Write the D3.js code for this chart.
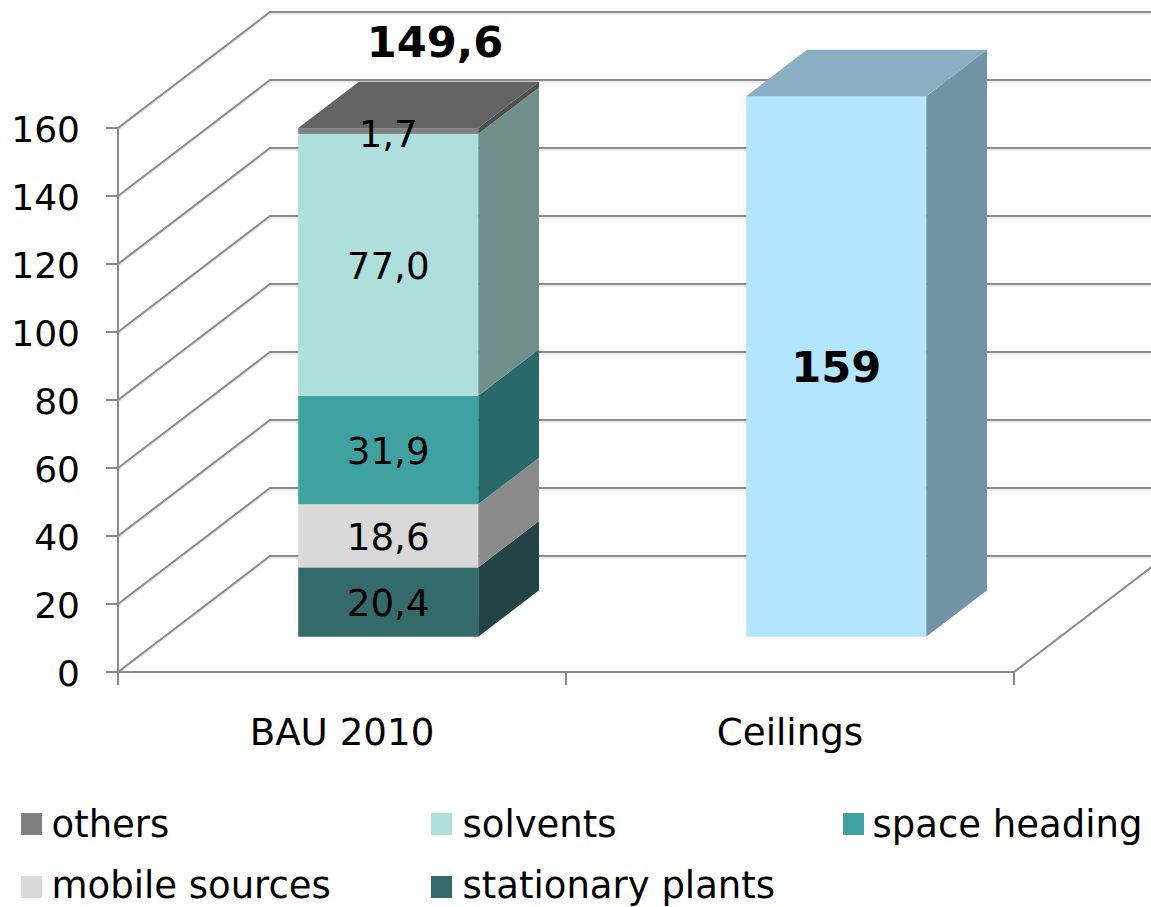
<!DOCTYPE html>
<html><head><meta charset="utf-8">
<script src="https://cdn.jsdelivr.net/npm/d3@7/dist/d3.min.js"></script>
<style>html,body{margin:0;padding:0;background:#fff;overflow:hidden}svg{display:block}text{font-family:"DejaVu Sans",sans-serif;fill:#000}</style>
</head><body><svg id="c" width="1151" height="907"></svg>
<script>
const categories = ["BAU 2010", "Ceilings"];
const stackNames = ["stationary plants", "mobile sources", "space heading", "solvents", "others"];
const stackValues = [20.4, 18.6, 31.9, 77.0, 1.7];
const stackLabels = ["20,4", "18,6", "31,9", "77,0", "1,7"];
const stackFront = ["#356a6a", "#d9d9d9", "#3fa2a0", "#aedfdd", "#808080"];
const stackSide = ["#234444", "#8a8a8a", "#29696a", "#6f8e8c", "#4f4f4f"];
const stackTotalLabel = "149,6";
const ceilingValue = 159;
const ceilingLabel = "159";
const ceilingColors = ["#b3e5ff", "#7293a5", "#8aafc2"];
const stackTopColor = "#636363";
const yTicks = [0, 20, 40, 60, 80, 100, 120, 140, 160];
const legendRows = [["others", "solvents", "space heading"], ["mobile sources", "stationary plants"]];
const gridColor = "#8a8a8a";
const FS = 37.2, FSB = 43.2, FSL = 37, FST = 36;

const svg = d3.select("#c");
const y = d3.scaleLinear().domain([0, 160]).range([672, 128]);
const x = d3.scaleBand().domain(categories).range([118, 1014]);
const wallDX = 152, wallDY = -116;
const barWidth = 180;
const frontFrac = 0.304, depthFrac = 0.4;
const floorOffsetX = wallDX * frontFrac, floorOffsetY = wallDY * frontFrac;
const depthX = wallDX * depthFrac, depthY = wallDY * depthFrac;
const barY = v => y(v) + floorOffsetY;
const barLeft = c => x(c) + x.bandwidth() / 2 - barWidth / 2 + floorOffsetX;
const line = d3.line();

const grid = svg.append("g");
yTicks.forEach(t => {
  const pts = [[x.range()[0], y(t)], [x.range()[0] + wallDX, y(t) + wallDY], [1151, y(t) + wallDY]];
  grid.append("path").attr("d", line(pts.map(p => [p[0], p[1] + 2]))).attr("fill", "none").attr("stroke", "#dcdcdc").attr("stroke-width", 1);
  grid.append("path").attr("d", line(pts)).attr("fill", "none").attr("stroke", gridColor).attr("stroke-width", 2);
  svg.append("line").attr("x1", x.range()[0] - 12).attr("x2", x.range()[0]).attr("y1", y(t)).attr("y2", y(t)).attr("stroke", gridColor).attr("stroke-width", 2);
  svg.append("text").attr("x", 80).attr("y", y(t) + 14).attr("text-anchor", "end").attr("font-size", FST).text(t);
});
svg.append("line").attr("x1", x.range()[0]).attr("x2", x.range()[0]).attr("y1", y(160)).attr("y2", y(0)).attr("stroke", gridColor).attr("stroke-width", 2);
svg.append("line").attr("x1", x.range()[0]).attr("x2", x.range()[1]).attr("y1", y(0)).attr("y2", y(0)).attr("stroke", gridColor).attr("stroke-width", 2);
svg.append("path").attr("d", line([[x.range()[1], y(0)], [x.range()[1] + wallDX, y(0) + wallDY]])).attr("fill", "none").attr("stroke", gridColor).attr("stroke-width", 2);
[x.range()[0], x.range()[0] + x.bandwidth(), x.range()[1]].forEach(px => {
  svg.append("line").attr("x1", px).attr("x2", px).attr("y1", y(0)).attr("y2", y(0) + 13).attr("stroke", gridColor).attr("stroke-width", 2);
});
categories.forEach(c => {
  svg.append("text").attr("x", x(c) + x.bandwidth() / 2).attr("y", 745).attr("text-anchor", "middle").attr("font-size", FS).text(c);
});

function box(c, v0, v1, front, side, top) {
  const l = barLeft(c), r = l + barWidth, y0 = barY(v0), y1 = barY(v1);
  svg.append("path").attr("d", line([[r, y0], [r + depthX, y0 + depthY], [r + depthX, y1 + depthY], [r, y1]]) + "Z").attr("fill", side);
  svg.append("rect").attr("x", l).attr("y", y1).attr("width", barWidth).attr("height", y0 - y1).attr("fill", front);
  if (top) svg.append("path").attr("d", line([[l, y1], [l + depthX, y1 + depthY], [r + depthX, y1 + depthY], [r, y1]]) + "Z").attr("fill", top);
}
let acc = 0;
const spans = stackValues.map(v => { const s = [acc, acc + v]; acc += v; return s; });
spans.forEach((s, i) => box(categories[0], s[0], s[1], stackFront[i], stackSide[i], i === spans.length - 1 ? stackTopColor : null));
box(categories[1], 0, ceilingValue, ceilingColors[0], ceilingColors[1], ceilingColors[2]);

const cx0 = barLeft(categories[0]) + barWidth / 2, cx1 = barLeft(categories[1]) + barWidth / 2;
spans.forEach((s, i) => {
  const my = barY((s[0] + s[1]) / 2);
  svg.append("text").attr("x", cx0).attr("y", i === 4 ? 147 : my + 14).attr("text-anchor", "middle").attr("font-size", FS).text(stackLabels[i]);
});
svg.append("text").attr("x", 435).attr("y", 57).attr("text-anchor", "middle").attr("font-size", FSB).attr("font-weight", "bold").text(stackTotalLabel);
svg.append("text").attr("x", cx1).attr("y", barY(ceilingValue / 2) + 16).attr("text-anchor", "middle").attr("font-size", FSB).attr("font-weight", "bold").text(ceilingLabel);

const colX = [21, 431, 843];
const textX = [51.5, 462.5, 872.5];
const rowY = [813, 876];
const baseY = [837, 898];
const colorOf = n => stackFront[stackNames.indexOf(n)];
legendRows.forEach((row, r) => row.forEach((n, c) => {
  svg.append("rect").attr("x", colX[c]).attr("y", rowY[r]).attr("width", 21).attr("height", 22).attr("fill", colorOf(n));
  svg.append("text").attr("x", textX[c]).attr("y", baseY[r]).attr("font-size", FSL).text(n);
}));
</script></body></html>
